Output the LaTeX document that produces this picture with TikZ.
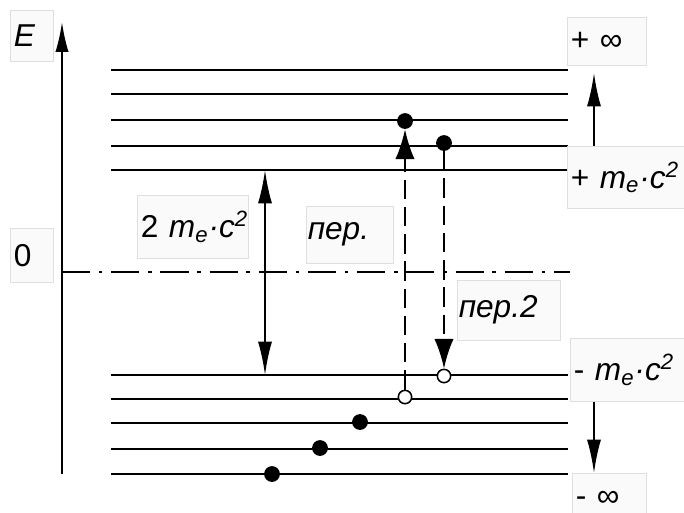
\documentclass[tikz,border=0pt]{standalone}
\usepackage{fontspec}
\setmainfont{Liberation Sans}
\usetikzlibrary{arrows.meta}

\begin{document}
\begin{tikzpicture}[x=0.02cm,y=-0.02cm,>={Latex[length=19pt,width=8pt]},
  lbl/.style={draw=gray!25,fill=gray!4,anchor=north west,align=left,inner xsep=2pt,
    font=\fontsize{18}{20}\selectfont\itshape},
  lvl/.style={line width=1.1pt},
  dot/.style={circle,fill,inner sep=0pt,minimum size=9pt},
  hole/.style={circle,draw,fill=white,line width=0.8pt,inner sep=0pt,minimum size=7.5pt},
  jump/.style={line width=1.3pt,dash pattern=on 11pt off 4.5pt,-{Latex[length=17pt,width=11pt]}}]
\clip (0,0) rectangle (684,512);
\fill[white] (0,0) rectangle (684,512);

% energy levels
\foreach \y in {70,94,120,146,170,375,399,423,449,474}
  \draw[lvl] (111,\y) -- (568,\y);

% axis and zero line
\coordinate (axb) at (62,474);
\coordinate (axt) at (62,22);
\coordinate (z0) at (62,272);
\coordinate (z1) at (570,272);
\draw[lvl,dash pattern=on 16pt off 5pt on 2pt off 5pt] (z0) -- (z1);
\draw[lvl,-{Latex[length=17pt,width=7.5pt]}] (axb) -- (axt);

% gap
\coordinate (ga) at (265,170);
\coordinate (gb) at (265,375);
\draw[lvl,<->] (ga) -- (gb);

% to the infinities
\coordinate (pa) at (594,146);
\coordinate (pb) at (594,73);
\coordinate (ma) at (594,401);
\coordinate (mb) at (594,473);
\draw[lvl,->] (pa) -- (pb);
\draw[lvl,->] (ma) -- (mb);

% electrons and holes
\node[dot] (d1) at (405,121) {};
\node[dot] (d2) at (444,143) {};
\node[dot] (l1) at (360,422) {};
\node[dot] (l2) at (320,448) {};
\node[dot] (l3) at (272,474) {};
\node[hole] (h1) at (405,397) {};
\node[hole] (h2) at (444,376) {};
\draw[jump] (h1) -- (d1);
\draw[jump] (d2) -- (h2);
\node[hole] at (h1) {};
\node[hole] at (h2) {};

% labels
\node[lbl,text width=20.4pt,minimum height=28.9pt] (e) at (10,10) {E};
\node[lbl,text width=20.4pt,minimum height=30.6pt] (zero) at (10,228) {\upshape 0};
\node[lbl,text width=40.8pt,minimum height=27.2pt] (pinf) at (567,17) {\upshape +~∞};
\node[lbl,text width=71.4pt,minimum height=35.2pt] (pmc) at (567,146) {\upshape +~\itshape m\textsubscript{e}·c\textsuperscript{2}};
\node[lbl,text width=58.9pt,minimum height=35.7pt] (gap) at (137,195) {\mbox{\upshape 2~\itshape m\textsubscript{e}·c\textsuperscript{2}}};
\node[lbl,text width=48.2pt,minimum height=32.3pt,inner xsep=0.8pt] (p1) at (306,206) {пер.};
\node[lbl,text width=57.2pt,minimum height=34pt,inner xsep=0.8pt] (p2) at (457,280) {пер.2};
\node[lbl,text width=69.7pt,minimum height=35.7pt] (mmc) at (570,338) {\upshape -~\itshape m\textsubscript{e}·c\textsuperscript{2}};
\node[lbl,text width=38pt,minimum height=29.5pt] (minf) at (572,473) {\upshape -~∞};
\end{tikzpicture}
\end{document}
